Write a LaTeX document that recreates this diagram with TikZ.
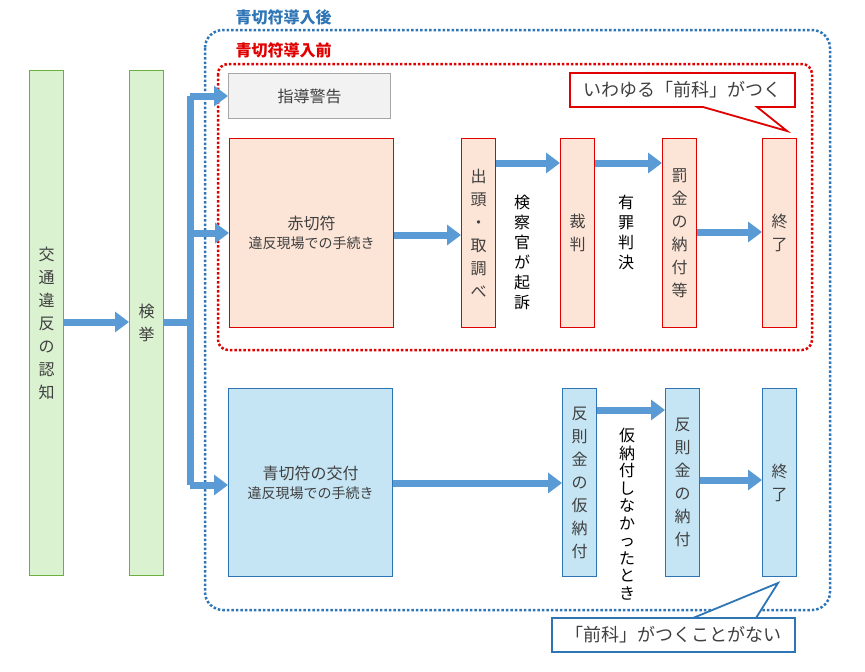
\documentclass[tikz,border=0pt]{standalone}
\usepackage{fontspec}
\setmainfont{Noto Sans CJK JP}
\usetikzlibrary{arrows.meta}
\definecolor{ab}{HTML}{5B9BD5}
\definecolor{tx}{HTML}{404040}
\definecolor{gf}{HTML}{DAF2D0}
\definecolor{gd}{HTML}{6AAF3F}
\definecolor{rf}{HTML}{FCE4D6}
\definecolor{rd}{HTML}{E00000}
\definecolor{bf}{HTML}{C5E5F4}
\definecolor{bd}{HTML}{2E75B6}
\tikzset{
 box/.style={draw,line width=1.3pt,text=tx,inner sep=0pt,font=\fontsize{16}{23}\selectfont,align=center},
 gbox/.style={box,fill=gf,draw=gd},
 rbox/.style={box,fill=rf,draw=rd},
 bbox/.style={box,fill=bf,draw=bd},
 arr/.style={draw=ab,line width=7pt,-{Triangle[length=14pt,width=20pt]}},
 lnk/.style={draw=ab,line width=7pt},
 vlab/.style={text=black,font=\fontsize{16}{20}\selectfont,align=center,inner sep=0pt},
}
\begin{document}
\begin{tikzpicture}[x=1pt,y=-1pt]
\useasboundingbox (0,0) rectangle (865,672);
% frames
\draw[bd,line width=2.5pt,dotted,rounded corners=18pt] (205,30) rectangle (830,610);
\draw[rd,line width=2.5pt,dotted,rounded corners=10pt] (218,64) rectangle (812,350);
\node[anchor=west,text=bd,font=\bfseries\fontsize{16}{18}\selectfont] (t1) at (232,17) {青切符導入後};
\node[anchor=west,text=rd,font=\bfseries\fontsize{16}{18}\selectfont] (t2) at (232,50) {青切符導入前};
% left
\node[gbox,minimum width=34pt,minimum height=505pt,anchor=north west] (a) at (29,70) {交\\通\\違\\反\\の\\認\\知};
\node[gbox,minimum width=34pt,minimum height=505pt,anchor=north west] (b) at (129,70) {検\\挙};
\draw[arr] (a.east|-0,322) -- (b.west|-0,322);
\coordinate (j) at (190,322);
\coordinate (jt) at (190,96);
\coordinate (jm) at (190,233);
\coordinate (jb) at (190,485);
\draw[lnk] (b.east|-0,322) -- (j);
\draw[lnk] (jt) -- (jb);
% top
\node[box,fill=gray!10,draw=gray!70,minimum width=162pt,minimum height=45pt,anchor=north west] (g) at (228,73) {指導警告};
\node[rbox,minimum width=164pt,minimum height=189pt,anchor=north west,text=tx] (r) at (229,138) {赤切符\\[-4pt]{\fontsize{14}{16}\selectfont 違反現場での手続き}};
\node[rbox,minimum width=34pt,minimum height=189pt,anchor=north west] (r1) at (461,138) {出\\頭\\・\\取\\調\\べ};
\node[rbox,minimum width=34pt,minimum height=189pt,anchor=north west] (r2) at (560,138) {裁\\判};
\node[rbox,minimum width=34pt,minimum height=189pt,anchor=north west] (r3) at (662,138) {罰\\金\\の\\納\\付\\等};
\node[rbox,minimum width=34pt,minimum height=189pt,anchor=north west] (r4) at (762,138) {終\\了};
\draw[arr] (jt) -- (g.west|-jt);
\draw[arr] (jm) -- (r.west|-jm);
\draw[arr] (r.east|-0,235) -- (r1.west|-0,235);
\draw[arr] (r1.east|-0,163) -- (r2.west|-0,163);
\draw[arr] (r2.east|-0,163) -- (r3.west|-0,163);
\draw[arr] (r3.east|-0,232) -- (r4.west|-0,232);
\node[vlab,anchor=north] (l1) at (522,195) {検\\察\\官\\が\\起\\訴};
\node[vlab,anchor=north] (l2) at (626,195) {有\\罪\\判\\決};
% bottom
\node[bbox,minimum width=164pt,minimum height=188pt,anchor=north west] (q) at (228,388) {青切符の交付\\[-4pt]{\fontsize{14}{16}\selectfont 違反現場での手続き}};
\node[bbox,minimum width=34pt,minimum height=188pt,anchor=north west] (q1) at (562,388) {反\\則\\金\\の\\仮\\納\\付};
\node[bbox,minimum width=34pt,minimum height=188pt,anchor=north west] (q2) at (665,388) {反\\則\\金\\の\\納\\付};
\node[bbox,minimum width=34pt,minimum height=188pt,anchor=north west] (q3) at (762,388) {終\\了};
\draw[arr] (jb) -- (q.west|-jb);
\draw[arr] (q.east|-0,483) -- (q1.west|-0,483);
\draw[arr] (q1.east|-0,410) -- (q2.west|-0,410);
\draw[arr] (q2.east|-0,480) -- (q3.west|-0,480);
\node[vlab,anchor=north,font=\fontsize{16}{17.5}\selectfont] (l3) at (627,428) {仮\\納\\付\\し\\な\\か\\っ\\た\\と\\き};
% callouts
\draw[rd,line width=1.8pt,fill=white] (570,73) -- (795,73) -- (795,107) -- (757,107) -- (787,131) -- (703,107) -- (570,107) -- cycle;
\node[text=tx,font=\fontsize{18}{20}\selectfont,inner sep=0pt] (c1) at (682,90) {いわゆる「前科」がつく};
\draw[bd,line width=1.8pt,fill=white] (552,618) -- (795,618) -- (795,652) -- (552,652) -- (552,618) -- (693,618) -- (778,583) -- (756,618);
\node[text=tx,font=\fontsize{18}{20}\selectfont,inner sep=0pt] (c2) at (673,635) {「前科」がつくことがない};
\end{tikzpicture}
\end{document}
